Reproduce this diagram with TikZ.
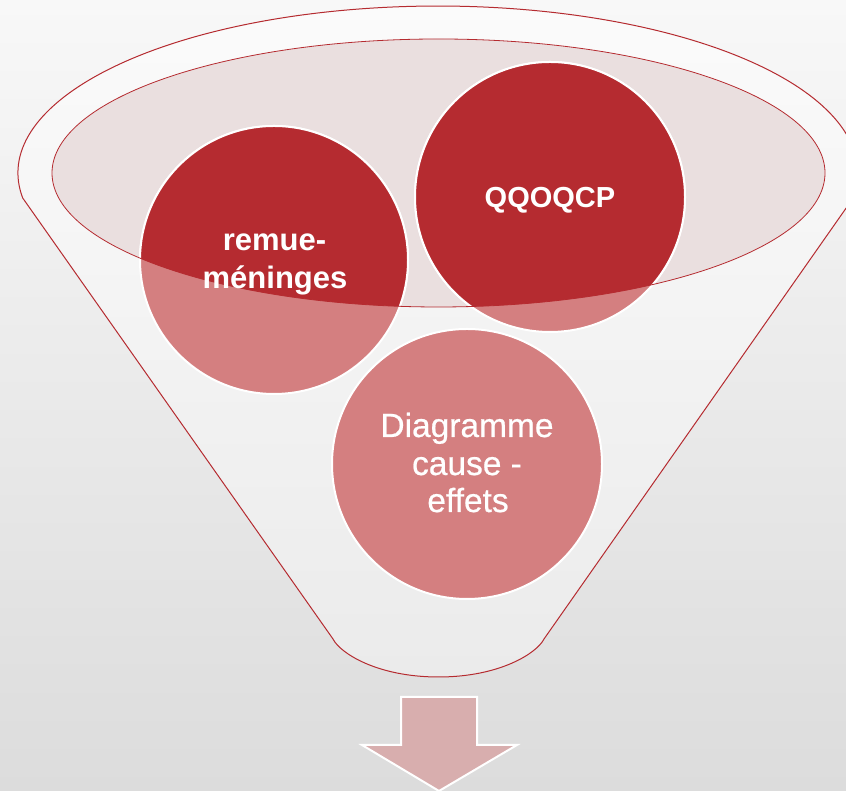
\documentclass[tikz,border=0pt]{standalone}
\usepackage{fontspec}
\setmainfont{Liberation Sans}
\newfontfamily\bookfont[FakeBold=0.6]{Liberation Sans}
\definecolor{fred}{HTML}{B52B30}
\definecolor{flight}{HTML}{D47F80}
\definecolor{fell}{HTML}{EADFDF}
\definecolor{farrow}{HTML}{D8AEAE}
\definecolor{bgtop}{HTML}{F8F8F8}
\definecolor{bgbot}{HTML}{DCDCDC}
\definecolor{ftop}{HTML}{FBFBFB}
\definecolor{fbot}{HTML}{EBEBEB}
\tikzset{
  lightcirc/.style={fill=flight,draw=white,line width=2pt},
  darkcirc/.style={fill=fred,draw=white,line width=2pt},
  boldtxt/.style={text=white,font=\fontsize{31}{36}\selectfont\bfseries,anchor=base,inner sep=0pt},
  regtxt/.style={text=white,font=\bookfont\fontsize{33.5}{38}\selectfont,anchor=base,inner sep=0pt},
}
\begin{document}
\begin{tikzpicture}[x=1pt,y=1pt]
\useasboundingbox (0,0) rectangle (846,791);
\shade[top color=bgtop,bottom color=bgbot] (0,0) rectangle (846,791);
\clip (0,0) rectangle (846,791);
% funnel body
\shadedraw[top color=ftop,bottom color=fbot,draw=fred,line width=1pt]
  (22.7,593) arc[start angle=188.6,end angle=-8.6,x radius=420,y radius=167]
  -- (544,152) .. controls (537,138) and (500,114) .. (438.5,114)
  .. controls (377,114) and (340,138) .. (333,152) -- cycle;
% inner ellipse fill
\fill[fell] (438.5,618) ellipse[x radius=386.5,y radius=134];
% circle centres
\coordinate (c1) at (274,531);
\coordinate (c2) at (550,594);
\coordinate (c3) at (467,327);
\path[lightcirc] (c1) circle[radius=134];
\path[lightcirc] (c2) circle[radius=135];
\path[lightcirc] (c3) circle[radius=135];
\begin{scope}
  \clip (438.5,618) ellipse[x radius=386.5,y radius=134];
  \path[darkcirc] (c1) circle[radius=134];
  \path[darkcirc] (c2) circle[radius=135];
\end{scope}
\draw[fred,line width=0.8pt] (438.5,618) ellipse[x radius=386.5,y radius=134];
% texts
\node[boldtxt] (t1a) at (274.5,540) {remue-};
\node[boldtxt] (t1b) at (275,502) {méninges};
\node[boldtxt,font=\fontsize{29}{34}\selectfont\bfseries] (t2) at (550,583) {QQOQCP};
\node[regtxt] (t3a) at (467,354) {Diagramme};
\node[regtxt] (t3b) at (467,316) {cause -};
\node[regtxt] (t3c) at (468,279) {effets};
% arrow
\filldraw[fill=farrow,draw=white,line width=2pt]
  (401,94) -- (477,94) -- (477,46) -- (517,46) -- (439,0) -- (362,46) -- (401,46) -- cycle;
\end{tikzpicture}
\end{document}
